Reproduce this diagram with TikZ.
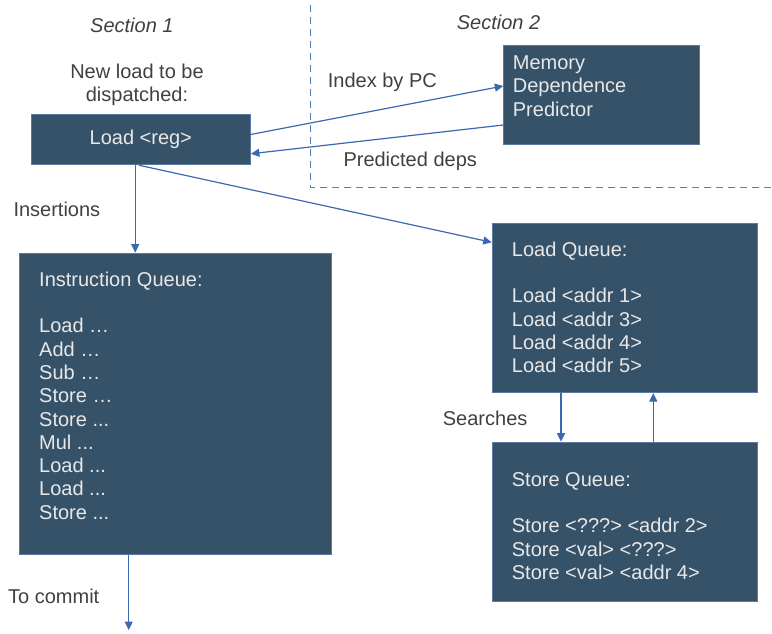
\documentclass[tikz,border=0pt]{standalone}
\usepackage{fontspec}
\setmainfont{Liberation Sans}
\usetikzlibrary{arrows.meta,calc}
\definecolor{boxfill}{RGB}{54,82,105}
\definecolor{boxline}{RGB}{90,122,165}
\definecolor{boxtext}{RGB}{232,232,232}
\definecolor{arrcol}{RGB}{58,105,176}
\definecolor{dashcol}{RGB}{84,128,192}
\definecolor{labcol}{RGB}{64,64,64}
\tikzset{
  qbox/.style={draw=boxline, line width=0.9pt, fill=boxfill, anchor=north west, inner sep=0pt, text=boxtext},
  boxtxt/.style={anchor=north west, inner sep=0pt, text=boxtext, align=left},
  lab/.style={anchor=base west, inner sep=0pt, text=labcol},
  arr/.style={draw=arrcol, line width=1.2pt, -{Triangle[width=8pt,length=8.5pt]}},
  sep/.style={draw=dashcol, line width=1.3pt, dash pattern=on 7pt off 5pt},
}
\begin{document}
\begin{tikzpicture}[x=1pt,y=-1pt,font=\fontsize{20}{23.3}\selectfont]
\useasboundingbox (0,0) rectangle (772,633);
% dashed separator
\coordinate (dtop) at (310.7,5);
\coordinate (dcorner) at (310.7,187.7);
\coordinate (dright) at (772,187.7);
\draw[sep] (dtop) -- (dcorner) -- (dright);
% boxes
\node[qbox, minimum width=219.3pt, minimum height=50pt] (load) at (30.7,114.3) {Load <reg>};
\node[qbox, minimum width=196pt, minimum height=99pt] (mdp) at (503.3,45) {};
\node[qbox, minimum width=311.7pt, minimum height=301.6pt] (iq) at (19,252.7) {};
\node[qbox, minimum width=265.6pt, minimum height=169pt] (lq) at (491.7,223.3) {};
\node[qbox, minimum width=265.6pt, minimum height=159pt] (sq) at (491.7,441.7) {};
% box texts
\node[boxtxt] (mdptxt) at (512.7,53) {\strut Memory\\Dependence\\Predictor};
\node[boxtxt] (iqtxt) at (39,269.7) {\strut Instruction Queue:\\ \strut\\Load …\\Add …\\Sub …\\Store …\\Store ...\\Mul ...\\Load ...\\Load ...\\Store ...};
\node[boxtxt] (lqtxt) at (511.7,239.7) {\strut Load Queue:\\ \strut\\Load <addr 1>\\Load <addr 3>\\Load <addr 4>\\Load <addr 5>};
\node[boxtxt] (sqtxt) at (511.7,469.7) {\strut Store Queue:\\ \strut\\Store <???> <addr 2>\\Store <val> <???>\\Store <val> <addr 4>};
% labels
\node[lab, font=\fontsize{20}{23.3}\selectfont\itshape] (sec1) at (90,32.3) {Section 1};
\node[lab, font=\fontsize{20}{23.3}\selectfont\itshape] (sec2) at (456.7,29.3) {Section 2};
\node[anchor=north, inner sep=0pt, text=labcol, align=center] (newload) at (137,62) {\strut New load to be\\dispatched:};
\node[lab] (idx) at (327.7,87.7) {Index by PC};
\node[lab] (pred) at (343.3,166.7) {Predicted deps};
\node[lab] (ins) at (13.3,216.7) {Insertions};
\node[lab] (srch) at (442.7,425) {Searches};
\node[lab] (tocommit) at (8,603.3) {To commit};
% connectors
\draw[arr] ([yshift=5.3pt]load.east) -- ([yshift=-41pt]mdp.north west);
\draw[arr] ([yshift=-80pt]mdp.north west) -- ([yshift=-14pt]load.east);
\draw[arr] ([xshift=-5.6pt]load.south) -- ([xshift=-5.6pt]load.south |- iq.north);
\draw[arr] ([xshift=-2pt]load.south) -- ([yshift=-19pt]lq.north west);
\draw[arr] ([xshift=69.3pt]lq.south west) -- ([xshift=69.3pt]lq.south west |- sq.north);
\draw[arr] ([xshift=161.6pt]sq.north west) -- ([xshift=161.6pt]sq.north west |- lq.south);
\coordinate (commit) at (128.7,630);
\draw[arr] (iq.south -| commit) -- (commit);
\end{tikzpicture}
\end{document}
